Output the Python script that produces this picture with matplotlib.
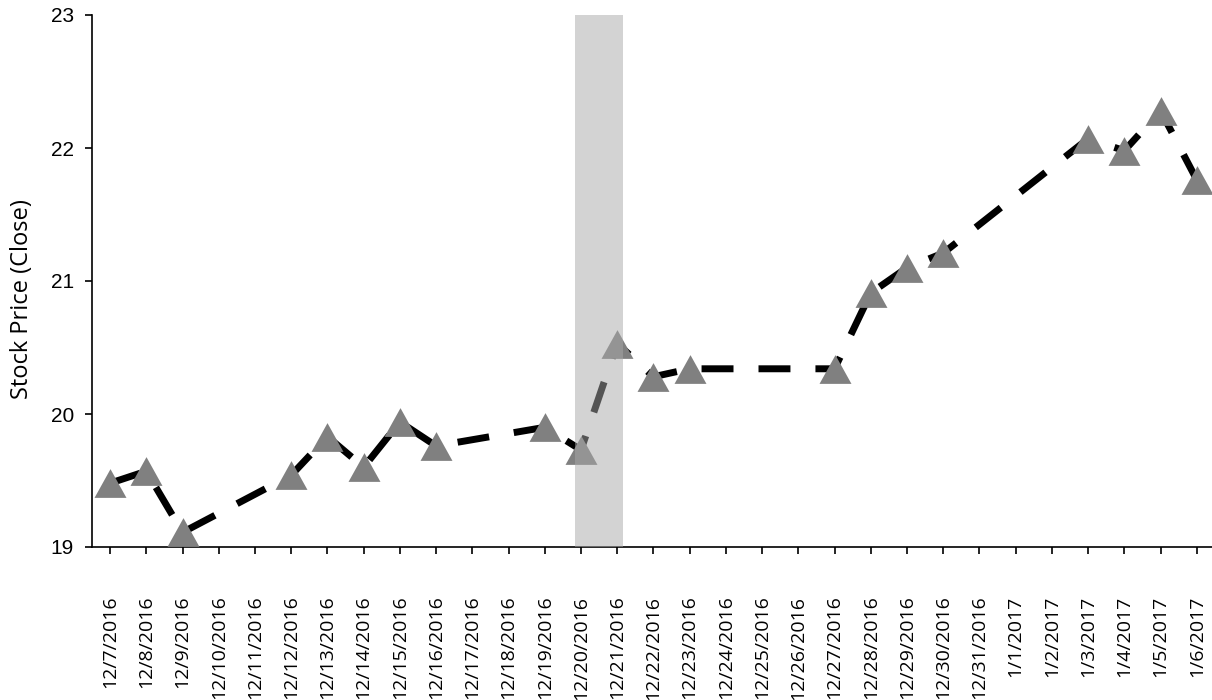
import matplotlib
matplotlib.use("Agg")
import matplotlib.pyplot as plt

# All calendar days on the category axis
date_labels = ["12/7/2016", "12/8/2016", "12/9/2016", "12/10/2016", "12/11/2016",
               "12/12/2016", "12/13/2016", "12/14/2016", "12/15/2016", "12/16/2016",
               "12/17/2016", "12/18/2016", "12/19/2016", "12/20/2016", "12/21/2016",
               "12/22/2016", "12/23/2016", "12/24/2016", "12/25/2016", "12/26/2016",
               "12/27/2016", "12/28/2016", "12/29/2016", "12/30/2016", "12/31/2016",
               "1/1/2017", "1/2/2017", "1/3/2017", "1/4/2017", "1/5/2017", "1/6/2017"]

# Trading days with closing prices
trade_dates = ["12/7/2016", "12/8/2016", "12/9/2016", "12/12/2016", "12/13/2016",
               "12/14/2016", "12/15/2016", "12/16/2016", "12/19/2016", "12/20/2016",
               "12/21/2016", "12/22/2016", "12/23/2016", "12/27/2016", "12/28/2016",
               "12/29/2016", "12/30/2016", "1/3/2017", "1/4/2017", "1/5/2017", "1/6/2017"]
close_prices = [19.48, 19.57, 19.11, 19.54, 19.83,
                19.60, 19.94, 19.76, 19.90, 19.73,
                20.53, 20.28, 20.34, 20.34, 20.91,
                21.10, 21.21, 22.07, 21.98, 22.28, 21.76]

# Highlighted event window
event_start, event_end = "12/20/2016", "12/21/2016"

y_ticks = [19, 20, 21, 22, 23]

fig = plt.figure(figsize=(12.12, 7.0), dpi=100)
ax = fig.add_axes([92 / 1212, 1 - 547 / 700, 1 - 92 / 1212, (547 - 15) / 700])

xpos = [date_labels.index(d) for d in trade_dates]

ax.plot(xpos, close_prices, color="black", lw=5, linestyle=(0, (4.6, 3.6)),
        solid_capstyle="butt", dash_capstyle="butt", zorder=2)
tri = [(-1, -0.9), (1, -0.9), (0, 0.9)]
ax.plot(xpos, close_prices, linestyle="none", marker=tri, markersize=23,
        color="#808080", markeredgewidth=0, zorder=3, clip_on=False)

i0, i1 = date_labels.index(event_start), date_labels.index(event_end)
ax.axvspan(i0 - 0.16, i1 + 0.16, color="#a8a8a8", alpha=0.5, lw=0, zorder=5)

ax.set_xlim(-0.5, 30.42)
ax.set_ylim(19, 23)
ax.set_yticks(y_ticks)
ax.set_yticklabels([str(v) for v in y_ticks], family="Liberation Sans", fontsize=15)
ax.set_xticks(range(len(date_labels)))
ax.set_xticklabels(date_labels, rotation=90, family="Open Sans", fontsize=14)

for s in ["top", "right"]:
    ax.spines[s].set_visible(False)
for s in ["left", "bottom"]:
    ax.spines[s].set_linewidth(1.2)
    ax.spines[s].set_color("black")

ax.tick_params(axis="y", direction="out", length=5, width=1.2, pad=8)
ax.tick_params(axis="x", direction="out", length=5, width=1.2, pad=30)

ax.set_ylabel("Stock Price (Close)", family="Open Sans", fontsize=17)
ax.yaxis.set_label_coords(-0.052, 0.466)

fig.savefig("out.png", dpi=100)
